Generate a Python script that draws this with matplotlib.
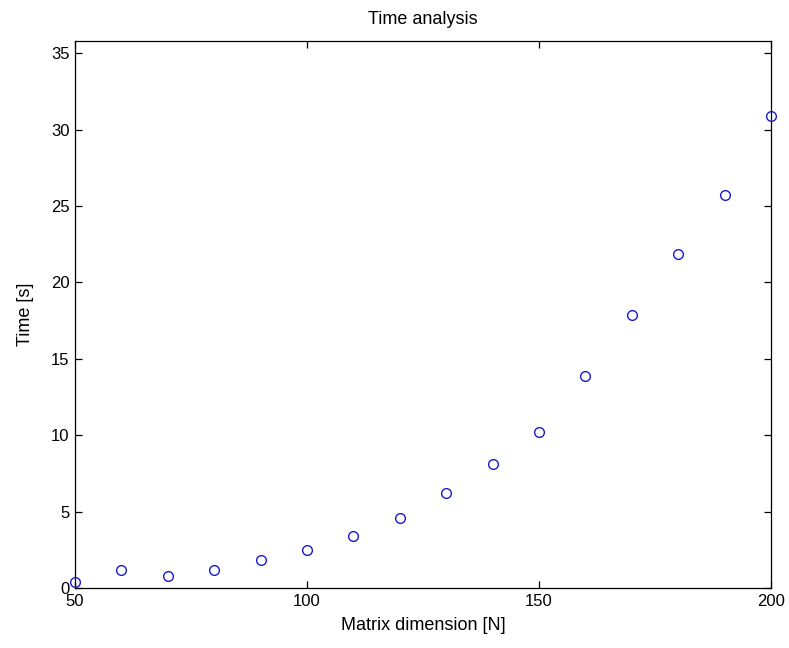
import matplotlib
matplotlib.use("Agg")
import matplotlib.pyplot as plt

# matrix dimension vs. measured time
dims = [50, 60, 70, 80, 90, 100, 110, 120, 130, 140, 150, 160, 170, 180, 190, 200]
times = [0.37, 1.2, 0.77, 1.2, 1.83, 2.47, 3.4, 4.56, 6.25, 8.1, 10.2,
         13.9, 17.87, 21.86, 25.75, 30.9]
xticks = [50, 100, 150, 200]
yticks = [0, 5, 10, 15, 20, 25, 30, 35]

plt.rcParams["font.family"] = ["Liberation Sans", "DejaVu Sans"]
fig = plt.figure(figsize=(7.89, 6.48), dpi=100)
ax = fig.add_axes([75 / 789, 60 / 648, 696 / 789, 547 / 648])

ax.plot(dims, times, "o", mfc="none", mec="#1a1acc", ms=7, mew=1.0, clip_on=False, zorder=5)

ax.set_xlim(50, 200)
ax.set_ylim(0, 35.8)
ax.set_xticks(xticks)
ax.set_yticks(yticks)
ax.tick_params(direction="in", top=True, right=True, length=5, width=0.9, labelsize=12, pad=4)
for s in ax.spines.values():
    s.set_linewidth(0.9)
ax.set_xlabel("Matrix dimension [N]", fontsize=13, labelpad=6)
ax.set_ylabel("Time [s]", fontsize=13, labelpad=12)
ax.set_title("Time analysis", fontsize=13, pad=12)

fig.savefig("out.png", dpi=100)
